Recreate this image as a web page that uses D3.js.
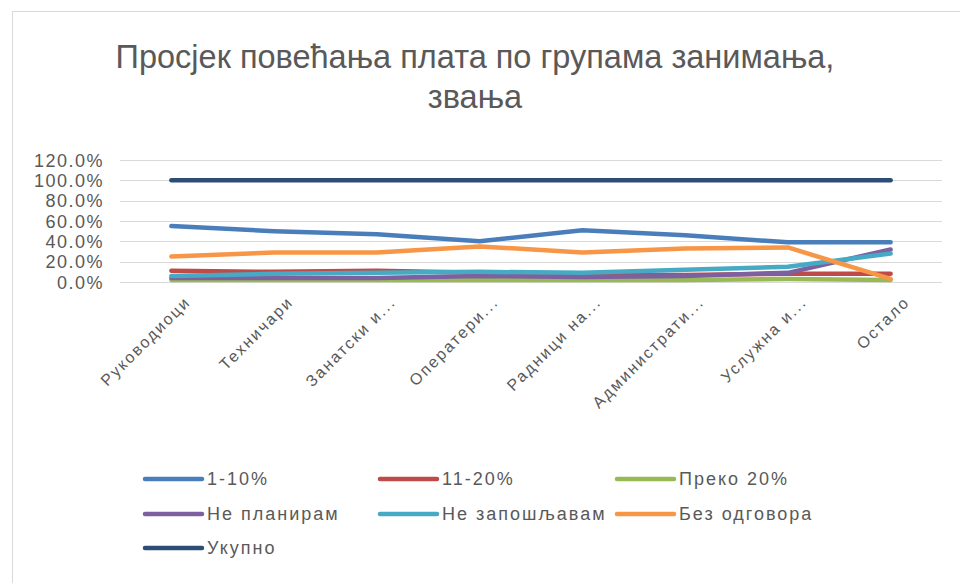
<!DOCTYPE html>
<html>
<head>
<meta charset="utf-8">
<script src="https://cdn.jsdelivr.net/npm/d3@7"></script>
<style>
    body { margin: 0; background: #fff; }
    svg { display: block; }
    .grid line { stroke: #d9d9d9; stroke-width: 1; }
    .axis text { fill: #595959; font-family: "Liberation Sans", Arial, sans-serif; }
</style>
</head>
<body>
<div id="chart"></div>
<script>
// categories and series values (percent)
const categories = ["Руководиоци", "Техничари", "Занатски и...", "Оператери...",
    "Радници на...", "Администрати...", "Услужна и...", "Остало"];

const seriesNames = ["1-10%", "11-20%", "Преко 20%", "Не планирам", "Не запошљавам", "Без одговора", "Укупно"];

const s1to10 = [55, 50, 47, 40, 51, 46, 39, 39];
const s11to20 = [11, 10, 11, 9, 7, 7, 8, 8];
const sOver20 = [2, 2, 2, 2, 2, 2, 3, 2];
const sNotPlanned = [4, 4, 4, 6, 5, 6, 9, 32];
const sNotHiring = [6, 8, 9, 10, 9, 12, 15, 28];
const sNoAnswer = [25, 29, 29, 35, 29, 33, 34, 3];
const sTotal = [100, 100, 100, 100, 100, 100, 100, 100];

const yTicks = [0, 20, 40, 60, 80, 100, 120];

const colors = ["#4a7ebb", "#be4b48", "#98b954", "#7d60a0", "#46aac5", "#f79646", "#2c4d75"];

let allSeries = [s1to10, s11to20, sOver20, sNotPlanned, sNotHiring, sNoAnswer, sTotal]
    .map((vals, i) => ({name: seriesNames[i], values: vals, color: colors[i]}));

const width = 960, height = 583;
const margin = {top: 160, right: 18, bottom: 301, left: 120};

let svg = d3.select("#chart").append("svg")
    .attr("width", width)
    .attr("height", height);

// chart frame
svg.append("rect")
    .attr("x", 12.5).attr("y", 11.5)
    .attr("width", width).attr("height", height)
    .attr("fill", "#fff")
    .attr("stroke", "#d9d9d9");

// title
let title = svg.append("text")
    .attr("text-anchor", "middle")
    .attr("fill", "#595959")
    .style("font-family", "'Liberation Sans', Arial, sans-serif")
    .style("font-size", "32.5px");
title.append("tspan").attr("x", 475).attr("y", 68).text("Просјек повећања плата по групама занимања,");
title.append("tspan").attr("x", 475).attr("y", 108).text("звања");

// scales
let x = d3.scaleBand()
    .domain(categories)
    .range([margin.left, width - margin.right]);

let y = d3.scaleLinear()
    .domain([0, 120])
    .range([height - margin.bottom, margin.top]);

// gridlines
svg.append("g")
    .attr("class", "grid")
    .selectAll("line")
    .data(yTicks)
    .enter()
    .append("line")
    .attr("x1", margin.left)
    .attr("x2", width - margin.right)
    .attr("y1", d => Math.round(y(d)) + 0.5)
    .attr("y2", d => Math.round(y(d)) + 0.5);

// y axis
let yAxis = d3.axisLeft(y)
    .tickValues(yTicks)
    .tickFormat(d => d.toFixed(1) + "%")
    .tickSize(0)
    .tickPadding(0);

let yG = svg.append("g")
    .attr("class", "axis")
    .attr("transform", "translate(104,0)")
    .call(yAxis);
yG.select(".domain").remove();
yG.selectAll("text")
    .style("font-size", "18px")
    .style("letter-spacing", "1.5px")
    .attr("dy", "0.35em");

// x axis labels, rotated
let xAxis = d3.axisBottom(x).tickSize(0).tickPadding(0);
let xG = svg.append("g")
    .attr("class", "axis")
    .attr("transform", "translate(0," + (height - margin.bottom) + ")")
    .call(xAxis);
xG.select(".domain").remove();
xG.selectAll("text")
    .style("font-size", "16px")
    .style("letter-spacing", "2px")
    .attr("text-anchor", "end")
    .attr("dy", 0)
    .attr("y", 0)
    .attr("transform", "translate(20,21) rotate(-45)");

// lines
let line = d3.line()
    .x((d, i) => x(categories[i]) + x.bandwidth() / 2)
    .y(d => y(d));

svg.append("g")
    .selectAll("path")
    .data(allSeries)
    .enter()
    .append("path")
    .attr("d", d => line(d.values))
    .attr("fill", "none")
    .attr("stroke", d => d.color)
    .attr("stroke-width", 4.5)
    .attr("stroke-linecap", "round")
    .attr("stroke-linejoin", "round");

// legend
const legendCols = [145, 380, 617];
const legendRows = [479, 514, 548];

let legend = svg.append("g")
    .selectAll("g")
    .data(allSeries)
    .enter()
    .append("g")
    .attr("transform", (d, i) => "translate(" + legendCols[i % 3] + "," + legendRows[Math.floor(i / 3)] + ")");

legend.append("line")
    .attr("x1", 0).attr("x2", 57)
    .attr("stroke", d => d.color)
    .attr("stroke-width", 4.5)
    .attr("stroke-linecap", "round");

legend.append("text")
    .attr("x", 62)
    .attr("dy", "0.35em")
    .attr("fill", "#595959")
    .style("font-family", "'Liberation Sans', Arial, sans-serif")
    .style("font-size", "18px")
    .style("letter-spacing", "2px")
    .text(d => d.name);
</script>
</body>
</html>
